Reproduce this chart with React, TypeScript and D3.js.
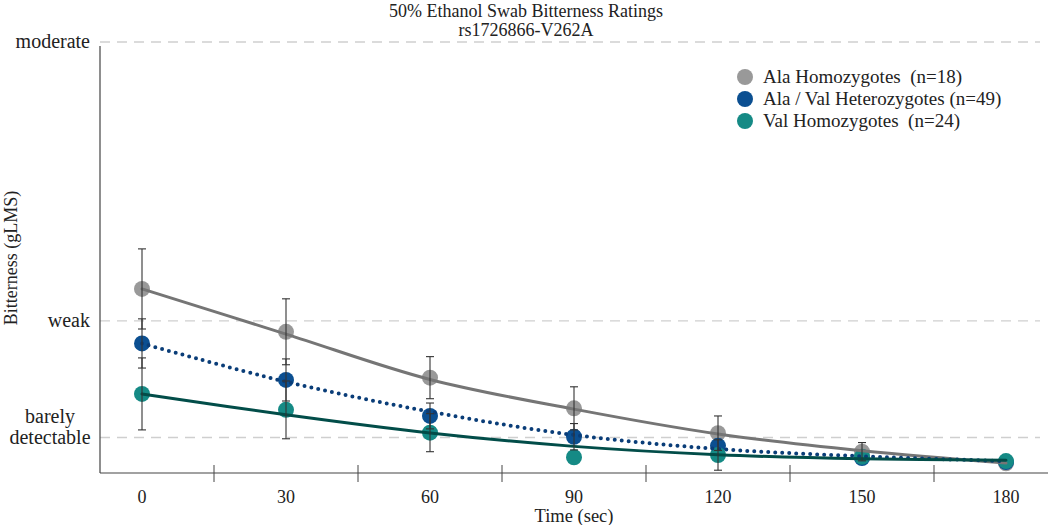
import React from 'react';
import * as d3 from 'd3';

// time points (sec)
const times = [0, 30, 60, 90, 120, 150, 180];

// group means (gLMS units)
const alaMeans = [7.26, 5.57, 3.76, 2.55, 1.57, 0.84, 0.38];
const alaErr = [1.58, 1.3, 0.83, 0.85, 0.68, 0.36, 0];
const hetMeans = [5.11, 3.67, 2.25, 1.43, 1.07, 0.59, 0.43];
const hetErr = [0.97, 0.83, 0.51, 0.52, 0, 0, 0];
const valMeans = [3.12, 2.49, 1.59, 0.62, 0.71, 0.64, 0.47];
const valErr = [1.42, 1.14, 0.75, 0, 0.6, 0, 0];

// fitted decay curves, read at each time point
const alaFit = [7.26, 5.48, 3.69, 2.52, 1.54, 0.88, 0.39];
const hetFit = [5.11, 3.6, 2.42, 1.5, 0.95, 0.66, 0.47];
const valFit = [3.12, 2.3, 1.58, 1.05, 0.72, 0.56, 0.5];

const yTickValues = [1.4, 6, 17];
const yTickLabels = [['barely', 'detectable'], ['weak'], ['moderate']];
const legendLabels = ['Ala Homozygotes  (n=18)', 'Ala / Val Heterozygotes (n=49)', 'Val Homozygotes  (n=24)'];

const FONT = '"Liberation Serif", "DejaVu Serif", serif';

const series = [
  { means: alaMeans, err: alaErr, fit: alaFit, dot: '#999999', line: '#757575', dash: null },
  { means: hetMeans, err: hetErr, fit: hetFit, dot: '#0b4f91', line: '#0a3d78', dash: '0,7' },
  { means: valMeans, err: valErr, fit: valFit, dot: '#158a85', line: '#024d49', dash: null },
];

export default function App() {
  const width = 1050;
  const height = 525;
  const x = d3.scaleLinear().domain([-8.75, 188.75]).range([100, 1048]);
  const y = d3.scaleLinear().domain([0, 17]).range([473, 42]);

  const line = d3.line<number>()
    .x((_, i) => x(times[i]))
    .y(d => y(d))
    .curve(d3.curveCatmullRom.alpha(0.5));

  const minorTicks = d3.range(15, 180, 30);

  return (
    <svg width={width} height={height} style={{ position: 'absolute', left: 0, top: 0 }} fontFamily={FONT}>
      <rect width={width} height={height} fill="#fff" />
      {/* title */}
      <text x={526} y={17} textAnchor="middle" fontSize={18} fill="#222">50% Ethanol Swab Bitterness Ratings</text>
      <text x={526} y={36} textAnchor="middle" fontSize={18} fill="#222">rs1726866-V262A</text>

      {/* grid lines */}
      {yTickValues.map(v => (
        <line key={v} x1={100} x2={1040} y1={y(v)} y2={y(v)} stroke="#cfcfcf" strokeWidth={1.3} strokeDasharray="10,7" />
      ))}

      {/* y axis */}
      <line x1={100} x2={100} y1={y(17) + 4} y2={473} stroke="#444" strokeWidth={1.2} />
      {yTickValues.map((v, i) => {
        const lbl = yTickLabels[i];
        if (lbl.length === 1) {
          return <text key={v} x={90} y={y(v) + 6} textAnchor="end" fontSize={20} fill="#222">{lbl[0]}</text>;
        }
        return (
          <text key={v} x={50} textAnchor="middle" fontSize={20} fill="#222">
            <tspan x={50} y={y(v) - 15}>{lbl[0]}</tspan>
            <tspan x={50} y={y(v) + 6}>{lbl[1]}</tspan>
          </text>
        );
      })}
      <text transform="translate(17,258) rotate(-90)" textAnchor="middle" fontSize={18} fill="#222">Bitterness (gLMS)</text>

      {/* x axis */}
      <line x1={100} x2={1048} y1={473} y2={473} stroke="#444" strokeWidth={1.2} />
      {minorTicks.map(t => (
        <line key={t} x1={x(t)} x2={x(t)} y1={465} y2={482} stroke="#444" strokeWidth={1} />
      ))}
      {times.map(t => (
        <text key={t} x={x(t)} y={503} textAnchor="middle" fontSize={18} fill="#222">{t}</text>
      ))}
      <text x={574} y={522} textAnchor="middle" fontSize={18.5} fill="#222">Time (sec)</text>

      {/* markers */}
      {series.map((s, si) => s.means.map((m, i) => (
        <circle key={`c${si}-${i}`} cx={x(times[i])} cy={y(m)} r={8} fill={s.dot} />
      )))}

      {/* fit lines */}
      {series.map((s, si) => (
        <path key={`f${si}`} d={line(s.fit) || ''} fill="none" stroke={s.line}
          strokeWidth={s.dash ? 4 : 3} strokeLinecap="round"
          strokeDasharray={s.dash || undefined} />
      ))}

      {/* error bars */}
      {series.map((s, si) => s.means.map((m, i) => {
        const e = s.err[i];
        if (!e) return null;
        const cx = x(times[i]);
        return (
          <g key={`e${si}-${i}`} stroke="#333" strokeWidth={1.1}>
            <line x1={cx} x2={cx} y1={y(m + e)} y2={y(m - e)} />
            <line x1={cx - 4} x2={cx + 4} y1={y(m + e)} y2={y(m + e)} />
            <line x1={cx - 4} x2={cx + 4} y1={y(m - e)} y2={y(m - e)} />
          </g>
        );
      }))}

      {/* legend */}
      {legendLabels.map((l, i) => (
        <g key={l} transform={`translate(745,${77 + i * 22})`}>
          <circle r={8} fill={series[i].dot} />
          <text x={18} y={6} fontSize={19} fill="#222" style={{ whiteSpace: 'pre' }}>{l}</text>
        </g>
      ))}
    </svg>
  );
}
